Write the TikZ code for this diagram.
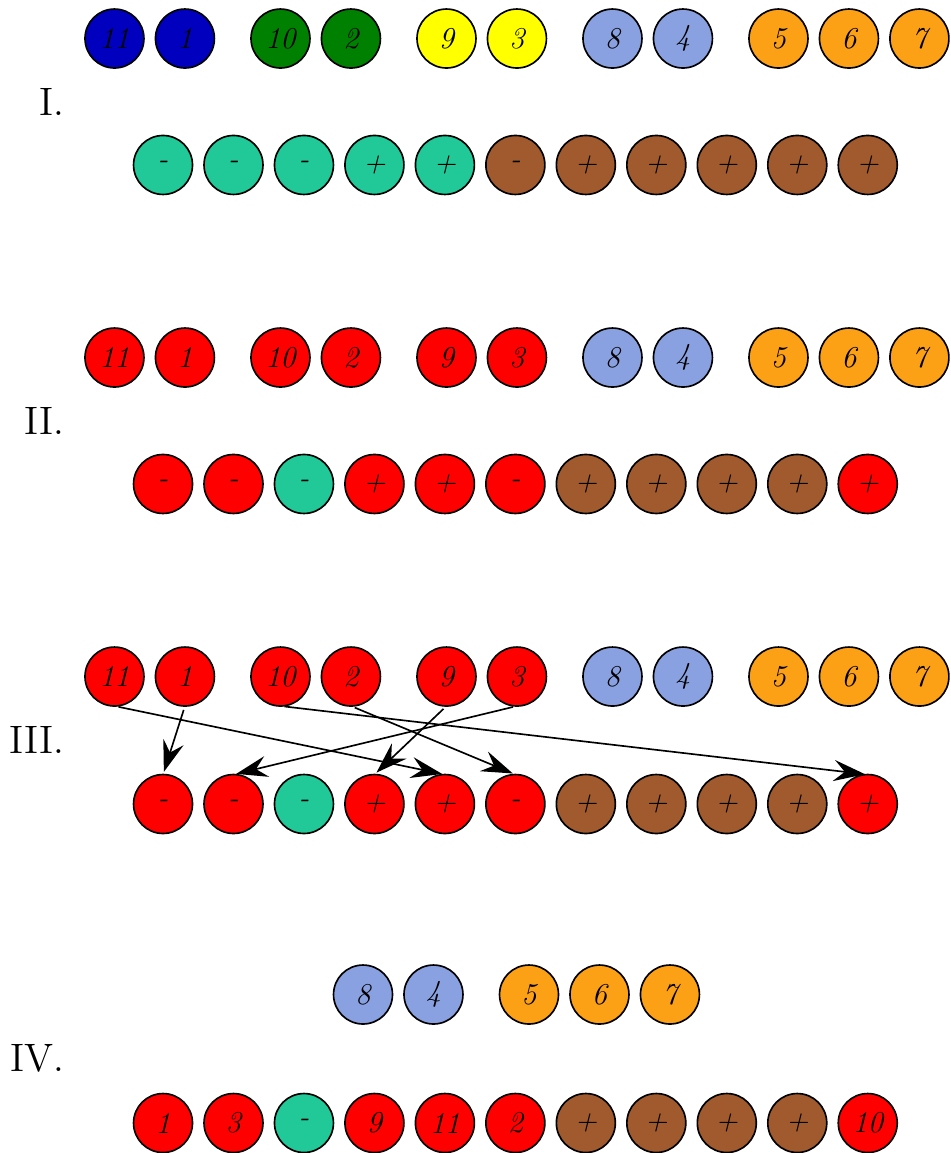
\documentclass[tikz,border=0pt]{standalone}
\usepackage{amsmath}
\usepackage{amssymb}
\usepackage{color}
\usepackage{tikz}
\usetikzlibrary{positioning,arrows.meta}

\definecolor{cblue}{RGB}{0,0,190}
\definecolor{cgreen}{RGB}{0,128,0}
\definecolor{cyellow}{RGB}{255,255,0}
\definecolor{clight}{RGB}{137,161,224}
\definecolor{corange}{RGB}{252,161,22}
\definecolor{cteal}{RGB}{32,201,151}
\definecolor{cbrown}{RGB}{160,90,45}
\definecolor{cred}{RGB}{255,0,0}

\tikzset{
  ball/.style={circle, draw=black, line width=0.6pt, minimum size=7.53mm,
    inner sep=0pt, outer sep=0pt, font=\fontsize{11}{13}\selectfont\itshape},
  sec/.style={anchor=east, inner sep=0pt, font=\Large},
  move/.style={-{Stealth[length=4mm,width=2.7mm,inset=1.4mm]}, line width=0.6pt,
    shorten <=1.5pt, shorten >=1pt},
}

\begin{document}
\begin{tikzpicture}[node distance=1.47mm]
  \useasboundingbox (0,0) rectangle (12.133,-14.725);

  % I.
  \node[sec] (sec-I) at (0.83,-1.30) {I.};
  \node[ball, fill=cblue]                      (t1-11) at (1.462,-0.492) {11};
  \node[ball, fill=cblue, right=of t1-11]       (t1-1)  {1};
  \node[ball, fill=cgreen, right=4.67mm of t1-1] (t1-10) {10};
  \node[ball, fill=cgreen, right=of t1-10]      (t1-2)  {2};
  \node[ball, fill=cyellow, right=4.67mm of t1-2] (t1-9) {9};
  \node[ball, fill=cyellow, right=of t1-9]      (t1-3)  {3};
  \node[ball, fill=clight, right=4.67mm of t1-3] (t1-8) {8};
  \node[ball, fill=clight, right=of t1-8]       (t1-4)  {4};
  \node[ball, fill=corange, right=4.67mm of t1-4] (t1-5) {5};
  \node[ball, fill=corange, right=of t1-5]      (t1-6)  {6};
  \node[ball, fill=corange, right=of t1-6]      (t1-7)  {7};

  \node[ball, fill=cteal]                 (b1-1) at (2.082,-2.107) {-};
  \node[ball, fill=cteal, right=of b1-1]   (b1-2)  {-};
  \node[ball, fill=cteal, right=of b1-2]   (b1-3)  {-};
  \node[ball, fill=cteal, right=of b1-3]   (b1-4)  {+};
  \node[ball, fill=cteal, right=of b1-4]   (b1-5)  {+};
  \node[ball, fill=cbrown, right=of b1-5]  (b1-6)  {-};
  \node[ball, fill=cbrown, right=of b1-6]  (b1-7)  {+};
  \node[ball, fill=cbrown, right=of b1-7]  (b1-8)  {+};
  \node[ball, fill=cbrown, right=of b1-8]  (b1-9)  {+};
  \node[ball, fill=cbrown, right=of b1-9]  (b1-10) {+};
  \node[ball, fill=cbrown, right=of b1-10] (b1-11) {+};

  % II.
  \node[sec] (sec-II) at (0.83,-5.377) {II.};
  \node[ball, fill=cred]                       (t2-11) at (1.462,-4.566) {11};
  \node[ball, fill=cred, right=of t2-11]        (t2-1)  {1};
  \node[ball, fill=cred, right=4.67mm of t2-1]  (t2-10) {10};
  \node[ball, fill=cred, right=of t2-10]        (t2-2)  {2};
  \node[ball, fill=cred, right=4.67mm of t2-2]  (t2-9)  {9};
  \node[ball, fill=cred, right=of t2-9]         (t2-3)  {3};
  \node[ball, fill=clight, right=4.67mm of t2-3] (t2-8) {8};
  \node[ball, fill=clight, right=of t2-8]       (t2-4)  {4};
  \node[ball, fill=corange, right=4.67mm of t2-4] (t2-5) {5};
  \node[ball, fill=corange, right=of t2-5]      (t2-6)  {6};
  \node[ball, fill=corange, right=of t2-6]      (t2-7)  {7};

  \node[ball, fill=cred]                  (b2-1) at (2.082,-6.181) {-};
  \node[ball, fill=cred, right=of b2-1]    (b2-2)  {-};
  \node[ball, fill=cteal, right=of b2-2]   (b2-3)  {-};
  \node[ball, fill=cred, right=of b2-3]    (b2-4)  {+};
  \node[ball, fill=cred, right=of b2-4]    (b2-5)  {+};
  \node[ball, fill=cred, right=of b2-5]    (b2-6)  {-};
  \node[ball, fill=cbrown, right=of b2-6]  (b2-7)  {+};
  \node[ball, fill=cbrown, right=of b2-7]  (b2-8)  {+};
  \node[ball, fill=cbrown, right=of b2-8]  (b2-9)  {+};
  \node[ball, fill=cbrown, right=of b2-9]  (b2-10) {+};
  \node[ball, fill=cred, right=of b2-10]   (b2-11) {+};

  % III.
  \node[sec] (sec-III) at (0.83,-9.451) {III.};
  \node[ball, fill=cred]                       (t3-11) at (1.462,-8.640) {11};
  \node[ball, fill=cred, right=of t3-11]        (t3-1)  {1};
  \node[ball, fill=cred, right=4.67mm of t3-1]  (t3-10) {10};
  \node[ball, fill=cred, right=of t3-10]        (t3-2)  {2};
  \node[ball, fill=cred, right=4.67mm of t3-2]  (t3-9)  {9};
  \node[ball, fill=cred, right=of t3-9]         (t3-3)  {3};
  \node[ball, fill=clight, right=4.67mm of t3-3] (t3-8) {8};
  \node[ball, fill=clight, right=of t3-8]       (t3-4)  {4};
  \node[ball, fill=corange, right=4.67mm of t3-4] (t3-5) {5};
  \node[ball, fill=corange, right=of t3-5]      (t3-6)  {6};
  \node[ball, fill=corange, right=of t3-6]      (t3-7)  {7};

  \node[ball, fill=cred]                  (b3-1) at (2.082,-10.268) {-};
  \node[ball, fill=cred, right=of b3-1]    (b3-2)  {-};
  \node[ball, fill=cteal, right=of b3-2]   (b3-3)  {-};
  \node[ball, fill=cred, right=of b3-3]    (b3-4)  {+};
  \node[ball, fill=cred, right=of b3-4]    (b3-5)  {+};
  \node[ball, fill=cred, right=of b3-5]    (b3-6)  {-};
  \node[ball, fill=cbrown, right=of b3-6]  (b3-7)  {+};
  \node[ball, fill=cbrown, right=of b3-7]  (b3-8)  {+};
  \node[ball, fill=cbrown, right=of b3-8]  (b3-9)  {+};
  \node[ball, fill=cbrown, right=of b3-9]  (b3-10) {+};
  \node[ball, fill=cred, right=of b3-10]   (b3-11) {+};

  % IV.
  \node[sec] (sec-IV) at (0.83,-13.512) {IV.};
  \node[ball, fill=clight]                     (t4-8) at (4.636,-12.701) {8};
  \node[ball, fill=clight, right=of t4-8]       (t4-4) {4};
  \node[ball, fill=corange, right=4.67mm of t4-4] (t4-5) {5};
  \node[ball, fill=corange, right=of t4-5]      (t4-6) {6};
  \node[ball, fill=corange, right=of t4-6]      (t4-7) {7};

  \node[ball, fill=cred]                  (b4-1) at (2.082,-14.342) {1};
  \node[ball, fill=cred, right=of b4-1]    (b4-2)  {3};
  \node[ball, fill=cteal, right=of b4-2]   (b4-3)  {-};
  \node[ball, fill=cred, right=of b4-3]    (b4-4)  {9};
  \node[ball, fill=cred, right=of b4-4]    (b4-5)  {11};
  \node[ball, fill=cred, right=of b4-5]    (b4-6)  {2};
  \node[ball, fill=cbrown, right=of b4-6]  (b4-7)  {+};
  \node[ball, fill=cbrown, right=of b4-7]  (b4-8)  {+};
  \node[ball, fill=cbrown, right=of b4-8]  (b4-9)  {+};
  \node[ball, fill=cbrown, right=of b4-9]  (b4-10) {+};
  \node[ball, fill=cred, right=of b4-10]   (b4-11) {10};

  % Connect the nodes
  \draw[move] (t3-11.south) -- (b3-5.north);
  \draw[move] (t3-1.south)  -- (b3-1.north);
  \draw[move] (t3-10.south) -- (b3-11.north);
  \draw[move] (t3-2.south)  -- (b3-6.north);
  \draw[move] (t3-9.south)  -- (b3-4.north);
  \draw[move] (t3-3.south)  -- (b3-2.north);
\end{tikzpicture}
\end{document}
